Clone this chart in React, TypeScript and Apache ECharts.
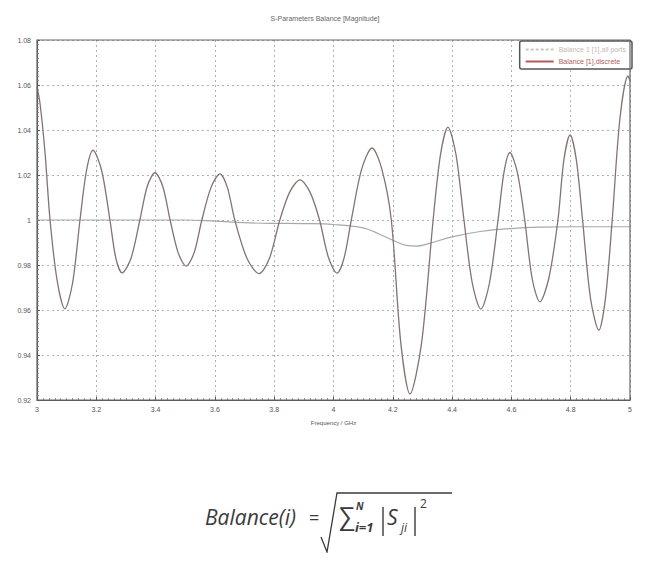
import React, { useEffect, useRef } from "react";
import * as echarts from "echarts";

const titleText = "S-Parameters Balance [Magnitude]";
const xAxisName = "Frequency / GHz";
const legendNames = ["Balance 1 [1],all ports", "Balance [1],discrete"];

// oscillating balance curve: [GHz, value]
const balanceFreq = [3.0, 3.01, 3.027, 3.044, 3.068, 3.094, 3.12, 3.145, 3.167, 3.189, 3.218, 3.246, 3.266, 3.287, 3.317, 3.347, 3.372, 3.398, 3.424, 3.449, 3.476, 3.503, 3.53, 3.556, 3.587, 3.617, 3.642, 3.667, 3.708, 3.749, 3.784, 3.819, 3.853, 3.887, 3.92, 3.953, 3.983, 4.012, 4.036, 4.06, 4.095, 4.13, 4.163, 4.195, 4.227, 4.258, 4.297, 4.336, 4.361, 4.386, 4.413, 4.44, 4.468, 4.497, 4.526, 4.555, 4.575, 4.595, 4.62, 4.645, 4.67, 4.696, 4.726, 4.757, 4.777, 4.798, 4.819, 4.84, 4.867, 4.895, 4.917, 4.94, 4.966, 4.993, 5.0];
const balanceVals = [1.059, 1.052, 1.03, 1.0, 0.973, 0.9605, 0.972, 1.0, 1.022, 1.031, 1.022, 1.0, 0.983, 0.9765, 0.983, 1.0, 1.015, 1.021, 1.015, 1.0, 0.9855, 0.9795, 0.9855, 1.0, 1.0145, 1.0205, 1.0145, 1.0, 0.983, 0.9762, 0.983, 1.0, 1.0126, 1.0178, 1.0126, 1.0, 0.9833, 0.9764, 0.9833, 1.0, 1.0226, 1.032, 1.0226, 1.0, 0.9453, 0.9227, 0.9453, 1.0, 1.0292, 1.0413, 1.0292, 1.0, 0.972, 0.9604, 0.972, 1.0, 1.0212, 1.03, 1.0212, 1.0, 0.974, 0.9636, 0.974, 1.0, 1.0267, 1.0378, 1.0267, 1.0, 0.965, 0.951, 0.965, 1.0, 1.045, 1.064, 1.062];

// near-flat curve
const flatFreq = [3.0, 3.2, 3.4, 3.5, 3.6, 3.7, 3.8, 3.9, 4.0, 4.1, 4.15, 4.2, 4.25, 4.28, 4.32, 4.4, 4.5, 4.6, 4.7, 4.8, 5.0];
const flatVals = [1.0, 1.0, 1.0, 1.0, 0.9995, 0.9988, 0.9985, 0.9984, 0.998, 0.9965, 0.994, 0.991, 0.9886, 0.9884, 0.9895, 0.9925, 0.995, 0.9962, 0.9968, 0.997, 0.997];

export default function App() {
  const ref = useRef<HTMLDivElement>(null);
  useEffect(() => {
    if (!ref.current) return;
    const chart = echarts.init(ref.current, undefined, { renderer: "svg" });
    const axisLabel = { fontSize: 7, color: "#555", fontFamily: "Liberation Sans" };
    const fText = { fill: "#3a3a3a", fontFamily: "Open Sans", fontStyle: "italic" as const };
    const bar = { stroke: "#3a3a3a", lineWidth: 1.4 };
    chart.setOption({
      animation: false,
      backgroundColor: "#fff",
      title: {
        text: titleText,
        left: "center",
        top: 10,
        textStyle: { fontSize: 7, color: "#666", fontWeight: "normal", fontFamily: "Liberation Sans" },
      },
      legend: {
        right: 18,
        top: 41,
        orient: "vertical",
        itemWidth: 28,
        itemHeight: 2,
        itemGap: 5,
        padding: [5, 6, 4, 6],
        borderColor: "#555",
        borderWidth: 1.5,
        borderRadius: 2,
        backgroundColor: "#fff",
        textStyle: { fontSize: 7, color: "#b07878", fontFamily: "Liberation Sans" },
        data: [
          {
            name: legendNames[0],
            icon: "path://M0,0h3v2h-3z M5,0h3v2h-3z M10,0h3v2h-3z M15,0h3v2h-3z M20,0h3v2h-3z M25,0h3v2h-3z",
            itemStyle: { color: "#c8c8c8" },
            textStyle: { color: "#c8b8b8" },
          },
          { name: legendNames[1], icon: "rect", itemStyle: { color: "#b05a5a" }, textStyle: { color: "#b06060" } },
        ],
      },
      grid: { left: 37, right: 20, top: 40, bottom: 161 },
      xAxis: {
        type: "value",
        min: 3,
        max: 5,
        interval: 0.2,
        name: xAxisName,
        nameLocation: "middle",
        nameGap: 20,
        nameTextStyle: { fontSize: 6, color: "#555", fontFamily: "Liberation Sans" },
        axisLine: { show: true, lineStyle: { color: "#555", width: 1.2 } },
        axisTick: { show: true, inside: true, length: 3, lineStyle: { color: "#555" } },
        minorTick: { show: true, splitNumber: 10, length: 2, lineStyle: { color: "#999" } },
        axisLabel: { ...axisLabel, margin: 6, formatter: (v: number) => String(Math.round(v * 10) / 10) },
        splitLine: { show: true, lineStyle: { color: "#b0b0b0", type: [2, 3] } },
      },
      yAxis: {
        type: "value",
        min: 0.92,
        max: 1.08,
        interval: 0.02,
        axisLine: { show: true, lineStyle: { color: "#555", width: 1.2 } },
        axisTick: { show: true, inside: true, length: 3, lineStyle: { color: "#555" } },
        minorTick: { show: true, splitNumber: 10, length: 2, lineStyle: { color: "#999" } },
        axisLabel: { ...axisLabel, margin: 6, formatter: (v: number) => String(Math.round(v * 100) / 100) },
        splitLine: { show: true, lineStyle: { color: "#b0b0b0", type: [2, 3] } },
      },
      series: [
        {
          name: legendNames[0],
          type: "line",
          data: flatFreq.map((f, i) => [f, flatVals[i]]),
          smooth: 0.4,
          showSymbol: false,
          lineStyle: { color: "#a8a8a8", width: 1.2 },
          itemStyle: { color: "#c8c8c8" },
          z: 2,
        },
        {
          name: legendNames[1],
          type: "line",
          data: balanceFreq.map((f, i) => [f, balanceVals[i]]),
          smooth: 0.3,
          showSymbol: false,
          lineStyle: { color: "#857272", width: 1.3 },
          itemStyle: { color: "#b05a5a" },
          z: 3,
        },
      ],
      graphic: [
        {
          type: "rect",
          shape: { x: 37, y: 40, width: 593, height: 360 },
          style: { fill: "none", stroke: "#666", lineWidth: 1.2 },
          silent: true,
          z: 10,
        },
        { type: "text", x: 205, y: 506, style: { ...fText, text: "Balance(i)", fontSize: 21 } },
        { type: "text", x: 309, y: 508, style: { ...fText, fontStyle: "normal", text: "=", fontSize: 18 } },
        {
          type: "polyline",
          shape: { points: [[321, 537], [327, 552], [337, 493], [452, 493]] },
          style: { stroke: "#3a3a3a", lineWidth: 1.3, fill: "none" },
        },
        { type: "text", x: 339, y: 502, style: { ...fText, fontStyle: "normal", text: "∑", fontSize: 25 } },
        { type: "text", x: 356, y: 501, style: { ...fText, text: "N", fontSize: 10, fontWeight: "bold" } },
        { type: "text", x: 355, y: 520, style: { ...fText, text: "i=1", fontSize: 13, fontWeight: "bold" } },
        { type: "line", shape: { x1: 383, y1: 507, x2: 383, y2: 536 }, style: bar },
        { type: "text", x: 387, y: 506, style: { ...fText, text: "S", fontSize: 21 } },
        { type: "text", x: 401, y: 521, style: { ...fText, text: "ji", fontSize: 12 } },
        { type: "line", shape: { x1: 415, y1: 507, x2: 415, y2: 536 }, style: bar },
        { type: "text", x: 420, y: 497, style: { ...fText, fontStyle: "normal", text: "2", fontSize: 12 } },
      ],
    });
    return () => chart.dispose();
  }, []);
  return <div ref={ref} style={{ width: 650, height: 561, margin: -8 }} />;
}
